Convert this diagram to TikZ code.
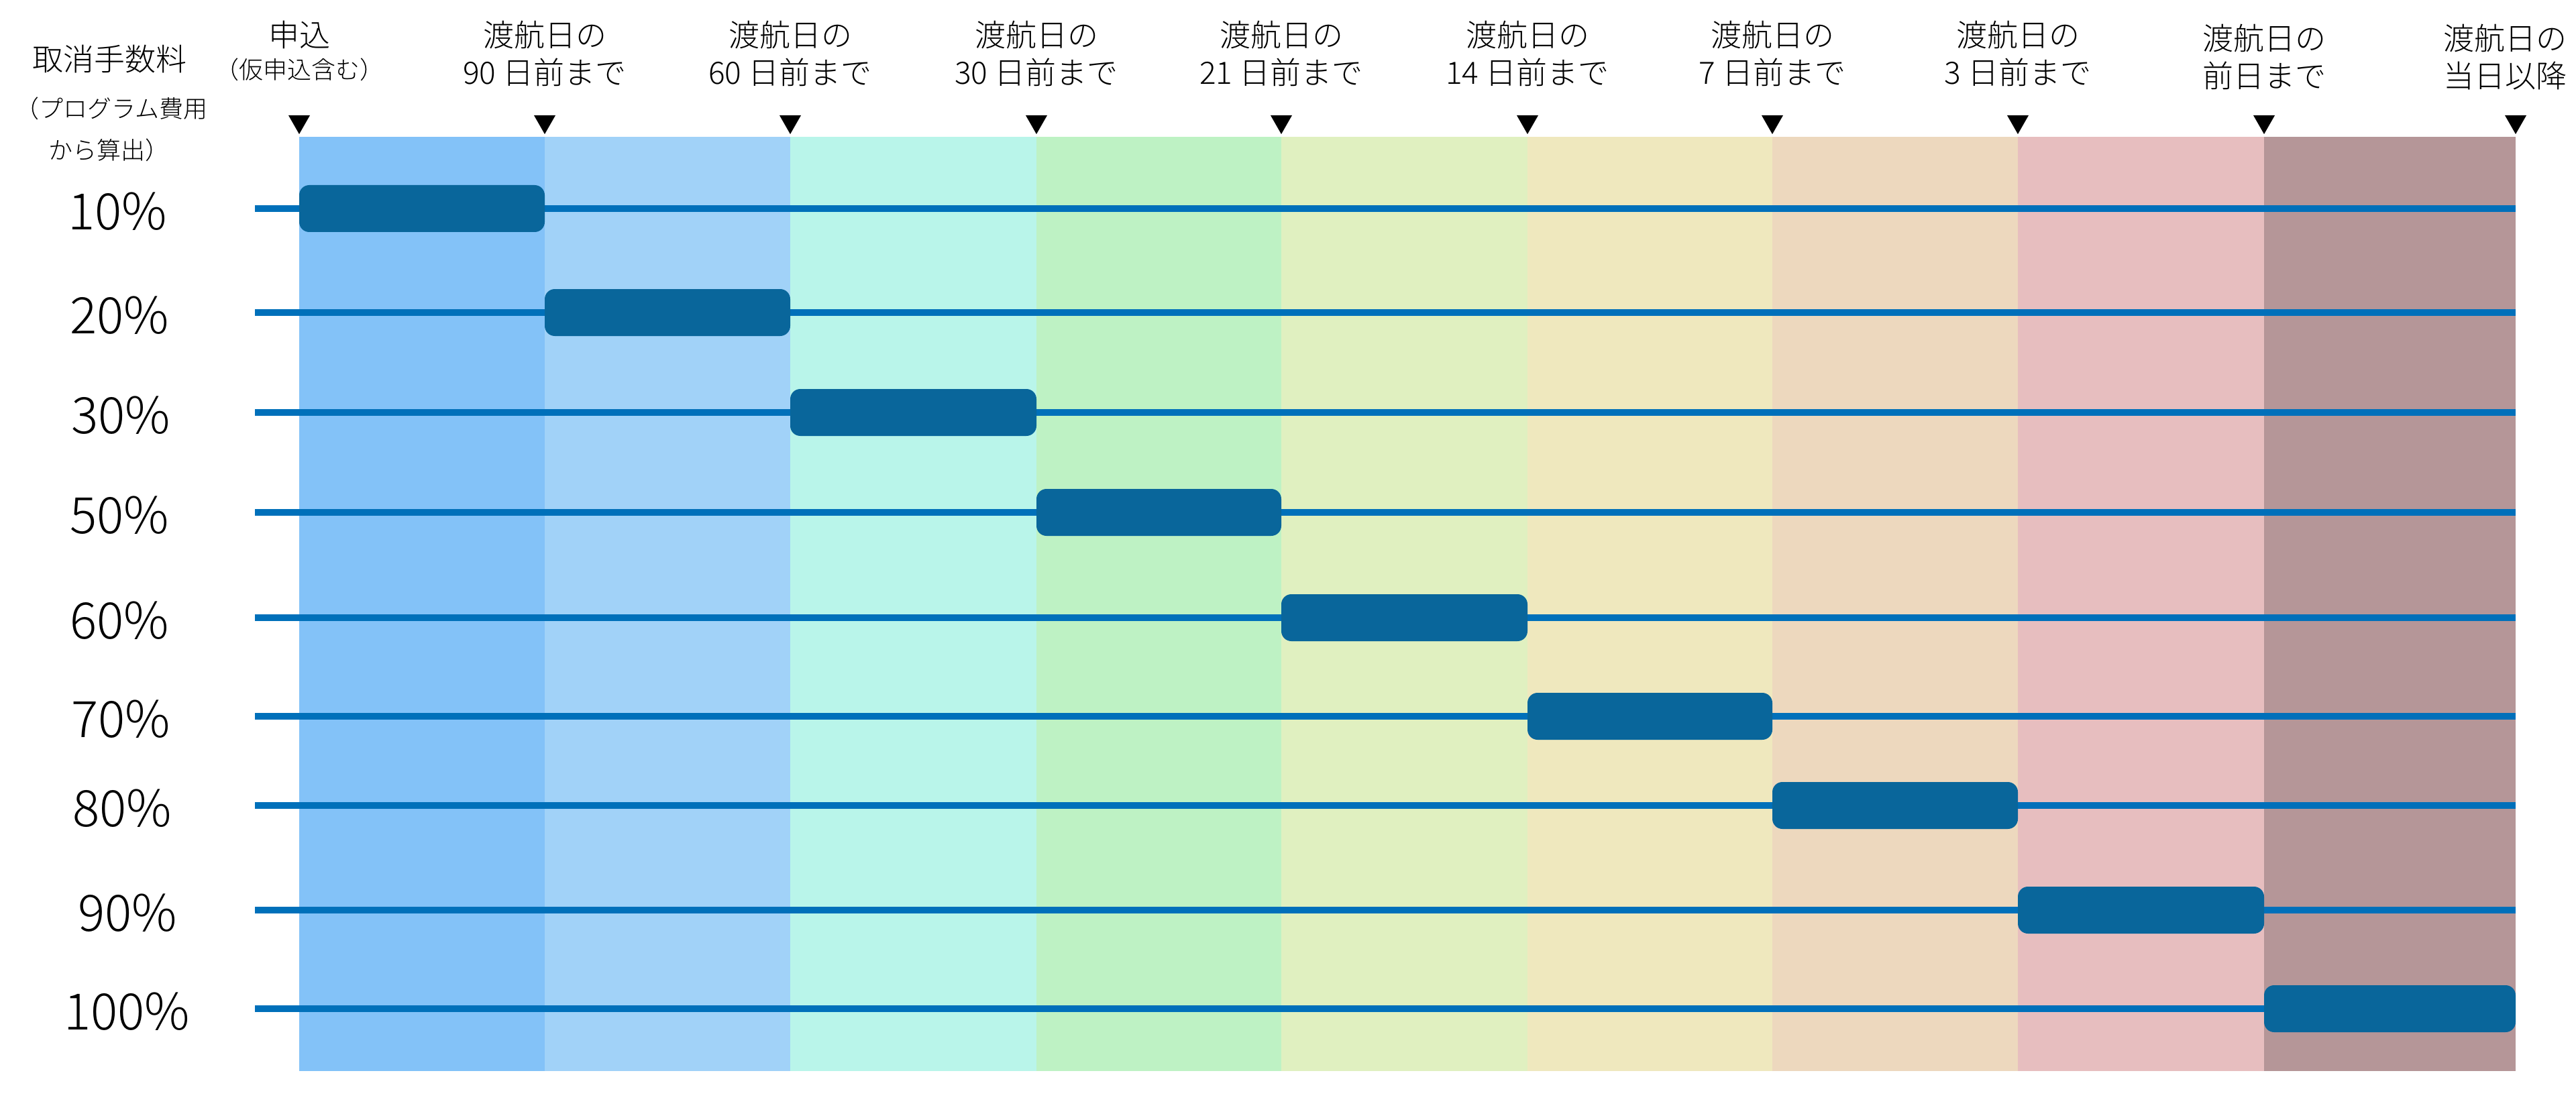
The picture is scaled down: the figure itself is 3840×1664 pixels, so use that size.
\documentclass[tikz,border=0pt]{standalone}
\usepackage{fontspec}
\setmainfont{Noto Sans CJK JP}
\newfontfamily\lightfont{Noto Sans CJK JP}[UprightFont=* Light]
\definecolor{c1}{RGB}{131,194,248}
\definecolor{c2}{RGB}{161,210,248}
\definecolor{c3}{RGB}{185,245,234}
\definecolor{c4}{RGB}{190,242,196}
\definecolor{c5}{RGB}{224,240,192}
\definecolor{c6}{RGB}{239,232,190}
\definecolor{c7}{RGB}{237,216,190}
\definecolor{c8}{RGB}{231,190,191}
\definecolor{c9}{RGB}{181,150,152}
\definecolor{lineblue}{RGB}{0,112,186}
\definecolor{barblue}{RGB}{9,102,155}
\begin{document}
\begin{tikzpicture}[x=0.5pt,y=-0.5pt,
  rowline/.style={draw=lineblue,line width=5pt},
  bar/.style={fill=barblue,rounded corners=7.5pt,inner sep=0pt,outer sep=0pt,minimum height=35pt},
  head/.style={align=center,inner sep=0pt,font=\lightfont\fontsize{23}{28}\selectfont},
  small/.style={inner sep=0pt,font=\lightfont\fontsize{18}{22}\selectfont},
  pct/.style={inner sep=0pt,font=\lightfont\fontsize{37.5}{44}\selectfont},
  tri/.style={fill=black}]
\useasboundingbox[fill=white] (0,0) rectangle (3840,1664);
% columns
\foreach \xa/\xb/\c in {446/812/c1,812/1178/c2,1178/1545/c3,1545/1910/c4,1910/2277/c5,2277/2642/c6,2642/3008/c7,3008/3375/c8,3375/3750/c9}
  \fill[\c] (\xa,204) rectangle (\xb,1597);
% rows
\foreach \i/\y/\xa/\xb/\px/\lab in {1/311/446/812/175/10\%,2/466/812/1178/178/20\%,3/615/1178/1545/180/30\%,4/764/1545/1910/178/50\%,5/921/1910/2277/178/60\%,6/1068/2277/2642/180/70\%,7/1201/2642/3008/182/80\%,8/1357/3008/3375/190/90\%,9/1504/3375/3750/189/100\%}{
  \coordinate (L\i) at (380,\y);
  \coordinate (R\i) at (3750,\y);
  \draw[rowline] (L\i) -- (R\i);
  \node[bar,minimum width={(\xb-\xa)*0.5pt}] (bar\i) at ({(\xa+\xb)/2},\y) {};
  \node[pct] (p\i) at (\px,\y+4) {\lab};
}
% triangles
\foreach \x in {446,812,1178,1545,1910,2277,2642,3008,3375,3750}
  \fill[tri] (\x-16,172) -- (\x+16,172) -- (\x,200) -- cycle;
% headers
\node[head] (h0) at (446,52) {申込};
\node[small] (h0s) at (446,104) {（仮申込含む）};
\node[head] (h1) at (812,80) {渡航日の\\90 日前まで};
\node[head] (h2) at (1178,80) {渡航日の\\60 日前まで};
\node[head] (h3) at (1545,80) {渡航日の\\30 日前まで};
\node[head] (h4) at (1910,80) {渡航日の\\21 日前まで};
\node[head] (h5) at (2277,80) {渡航日の\\14 日前まで};
\node[head] (h6) at (2642,80) {渡航日の\\7 日前まで};
\node[head] (h7) at (3008,80) {渡航日の\\3 日前まで};
\node[head] (h8) at (3375,85) {渡航日の\\前日まで};
\node[head] (h9) at (3734,85) {渡航日の\\当日以降};
% left header
\node[head] (lh) at (163,88) {取消手数料};
\node[small] (lh2) at (166,162) {（プログラム費用};
\node[small] (lh3) at (162,224) {から算出）};
\end{tikzpicture}
\end{document}
